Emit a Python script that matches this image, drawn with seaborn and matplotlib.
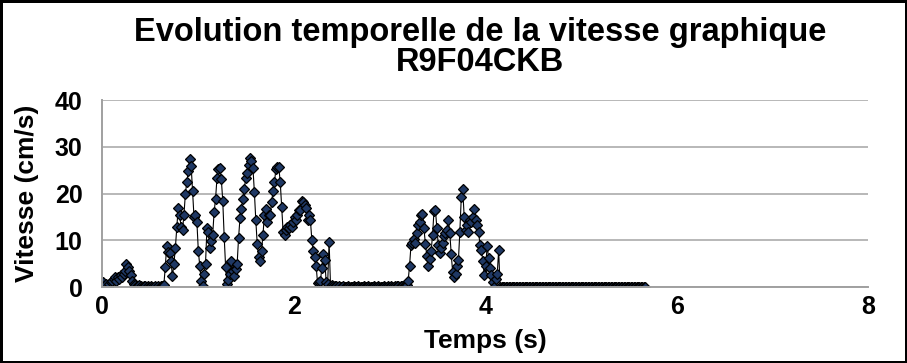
import numpy as np
import matplotlib
matplotlib.use("Agg")
import matplotlib.pyplot as plt
import seaborn as sns

# ---- data (speed samples, cm/s) ----
DT = 0.015  # sampling interval, s

start_seg = [0.8, 1.1, 0.4, 0.7, 0.1, 0.6, 1.1, 1.4, 1.8, 2.1,
             1.4, 2.1, 1.8, 2.5, 2.2, 2.8, 3.5, 4.9, 4.4, 3.5,
             2.7, 1.4, 0.7, 0.4]
pause_1 = [0.3, 0.2, 0.4, 0.2, 0.1, 0.2, 0.3, 0.1, 0.2, 0.1,
           0.2, 0.1, 0.1, 0.2, 0.1, 0.3, 0.1, 0.2, 0.2, 0.4]
burst_1 = [4.3, 8.8, 7.5, 7.2, 5.5, 2.3, 5.0, 8.3, 12.8, 17.0,
           15.5, 12.8, 12.2, 15.5, 20.0, 22.5, 24.8, 27.4, 26.0, 20.6,
           15.0, 15.4, 14.0, 7.8, 4.5, 1.4, 0.3, 2.8, 5.0, 12.6,
           11.9, 8.4, 9.8, 11.2, 16.1, 18.9, 23.4, 25.3, 25.5, 23.1,
           18.5, 10.8, 4.3, 0.7, 1.5, 2.9, 5.6, 3.5, 2.4, 3.8,
           4.9, 10.5, 14.8, 16.8, 18.9, 21.0, 23.4, 24.5, 26.2, 27.6,
           26.9, 25.5, 20.4, 14.3, 9.2, 6.4, 5.5, 7.8, 11.2, 15.5,
           16.8, 14.0, 15.5, 15.4, 18.2, 20.6, 22.5, 25.3, 25.7, 25.7,
           22.5, 17.1, 11.9, 11.2, 12.2, 12.9, 12.6, 13.3, 12.9, 14.0,
           15.0, 14.3, 15.5, 16.6, 16.4, 18.5, 18.2, 17.5, 16.9, 14.3,
           15.5, 14.3, 10.1, 7.7, 6.4, 4.5, 0.8, 1.0, 1.4, 4.2,
           7.1, 5.7, 1.0, 0.7, 9.7, 0.3]
pause_2 = [0.4, 0.3, 0.2, 0.2, 0.1, 0.2, 0.1, 0.1, 0.2, 0.1,
           0.1, 0.2, 0.1, 0.1, 0.1, 0.2, 0.1, 0.1, 0.2, 0.1,
           0.1, 0.1, 0.2, 0.1, 0.1, 0.2, 0.1, 0.1, 0.1, 0.2,
           0.1, 0.1, 0.2, 0.1, 0.1, 0.1, 0.2, 0.1, 0.1, 0.2,
           0.1, 0.2, 0.1, 0.1, 0.2, 0.3, 0.2, 0.1, 0.2, 0.3,
           0.2, 0.3, 0.4]
burst_2 = [1.3, 4.6, 9.0, 9.5, 10.2, 9.5, 11.6, 13.2, 14.0, 15.4,
           15.6, 12.6, 9.3, 6.7, 4.6, 6.0, 7.7, 11.1, 16.3, 16.5,
           12.6, 9.1, 7.4, 8.4, 9.5, 10.9, 11.6, 12.3, 14.4, 11.6,
           7.0, 3.2, 2.1, 2.8, 4.6, 5.8, 11.9, 19.3, 20.9, 15.1,
           12.3, 13.3, 11.9, 14.4, 14.0, 15.1, 16.7, 14.4, 13.3, 11.9,
           9.1, 7.9, 5.6, 2.5, 4.6, 8.8, 6.3, 4.2, 2.5, 1.1,
           0.1, 1.8, 2.8, 7.9, 0.1]
end_seg = [0.0, 0.1, 0.0, 0.0, 0.1, 0.0, 0.0, 0.0, 0.1, 0.0,
           0.0, 0.0, 0.1, 0.0, 0.0, 0.0, 0.0, 0.1, 0.0, 0.0,
           0.0, 0.1, 0.0, 0.0, 0.0, 0.0, 0.1, 0.0, 0.0, 0.0,
           0.0, 0.0, 0.1, 0.0, 0.0, 0.0, 0.1, 0.0, 0.0, 0.0,
           0.1, 0.0, 0.0, 0.0, 0.0, 0.1, 0.0, 0.0, 0.0, 0.1,
           0.0, 0.0, 0.0, 0.1, 0.0, 0.0, 0.0, 0.0, 0.1, 0.0,
           0.0, 0.1, 0.0, 0.0, 0.0, 0.0, 0.1, 0.0, 0.0, 0.0,
           0.0, 0.0, 0.1, 0.0, 0.0, 0.0, 0.1, 0.0, 0.0, 0.0,
           0.1, 0.0, 0.0, 0.0, 0.0, 0.1, 0.0, 0.0, 0.0, 0.1,
           0.0, 0.0, 0.0, 0.1, 0.0, 0.0, 0.0, 0.0, 0.1, 0.0,
           0.0]

vitesse = np.array(start_seg + pause_1 + burst_1 + pause_2 + burst_2 + end_seg)
temps = np.arange(len(vitesse)) * DT

x_ticks = [0, 2, 4, 6, 8]
y_ticks = [0, 10, 20, 30, 40]

# ---- style ----
sns.set_style("white")
plt.rcParams["font.family"] = ["Liberation Sans", "DejaVu Sans"]
plt.rcParams["font.weight"] = "bold"
plt.rcParams["text.color"] = "black"
plt.rcParams["axes.labelcolor"] = "black"

fig = plt.figure(figsize=(9.07, 3.63), dpi=100, edgecolor="black", linewidth=2.5)
ax = fig.add_axes([0.1125, 0.209, 0.845, 0.515])

sns.lineplot(x=temps, y=vitesse, ax=ax, color="black", linewidth=0.8,
             marker="D", markersize=5, markerfacecolor="#1f3864",
             markeredgecolor="black", markeredgewidth=0.9, estimator=None)

ax.set_xlim(0, 8)
ax.set_ylim(0, 40)
ax.set_xticks(x_ticks)
ax.set_yticks(y_ticks)
ax.yaxis.grid(True, color="#b8b8b8", linewidth=1.4)
ax.xaxis.grid(False)
for side in ["top", "right"]:
    ax.spines[side].set_visible(False)
for side in ["left", "bottom"]:
    ax.spines[side].set_color("#a0a0a0")
    ax.spines[side].set_linewidth(1.4)
ax.tick_params(axis="both", direction="out", length=5, width=1.2,
               color="#a0a0a0", labelcolor="black", labelsize=18)
ax.tick_params(axis="x", pad=1)
ax.tick_params(axis="y", pad=9)
for lab in ax.get_xticklabels() + ax.get_yticklabels():
    lab.set_fontweight("bold")

ax.set_xlabel("Temps (s)", fontsize=19, fontweight="bold")
ax.set_ylabel("Vitesse (cm/s)", fontsize=19, fontweight="bold")
ax.xaxis.set_label_coords(0.5, -0.225)
ax.yaxis.set_label_coords(-0.082, 0.5)

fig.text(0.529, 0.952, "Evolution temporelle de la vitesse graphique\nR9F04CKB",
         ha="center", va="top", fontsize=23.5, fontweight="bold",
         linespacing=0.95)

plt.savefig("out.png", dpi=100)
plt.close()
print("saved out.png")
